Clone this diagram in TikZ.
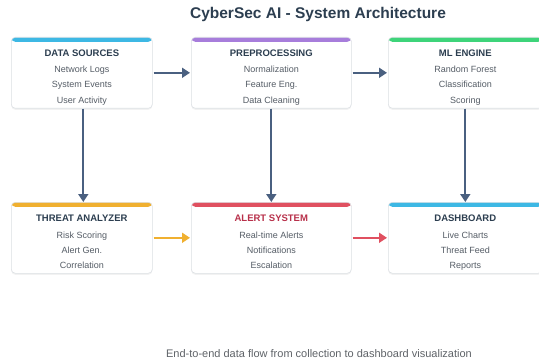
\documentclass[tikz,border=0pt]{standalone}
\usepackage{fontspec}
\setmainfont{Liberation Sans}
\usetikzlibrary{arrows.meta,shadows}
\definecolor{titlecol}{HTML}{2C3E50}
\definecolor{bodycol}{HTML}{555D66}
\definecolor{capcol}{HTML}{5F6368}
\definecolor{bordercol}{HTML}{DDE1E5}
\definecolor{cblue}{HTML}{3DB8E4}
\definecolor{cpurple}{HTML}{A77DDB}
\definecolor{cgreen}{HTML}{3ED47A}
\definecolor{corange}{HTML}{F0B030}
\definecolor{cred}{HTML}{E05060}
\definecolor{cdarkred}{HTML}{B8304A}
\definecolor{slate}{HTML}{4A6080}
\tikzset{
  archbox/.style n args={2}{draw=bordercol, line width=0.6pt, fill=white, rounded corners=4pt,
    inner sep=0pt, anchor=north west, minimum height=71pt, minimum width=#1,
    drop shadow={opacity=0.10, shadow xshift=0pt, shadow yshift=-1.5pt},
    path picture={\fill[#2] (path picture bounding box.north west) rectangle ([yshift=-4.5pt]path picture bounding box.north east);}},
  boxtitle/.style={anchor=base, font=\fontsize{9.5}{11}\selectfont\bfseries, text=titlecol, inner sep=0pt},
  boxline/.style={anchor=base, font=\fontsize{9}{10}\selectfont, text=bodycol, inner sep=0pt},
  flow/.style={line width=1.8pt, -{Triangle[length=8pt,width=10pt]}}
}
\newcommand{\archbox}[9]{%
  \node[archbox={#4}{#5}] (#1) at (#2,#3) {};
  \node[boxtitle, text=#7] (#1t) at ([yshift=-19.5pt]#1.north) {#6};
  \node[boxline] (#1a) at ([yshift=-36pt]#1.north) {#8};
  \node[boxline] (#1b) at ([yshift=-51pt]#1.north) {#9};
}
\begin{document}
\begin{tikzpicture}[x=1pt,y=-1pt]
\useasboundingbox (0,0) rectangle (539,361);
\fill[white] (0,0) rectangle (539,361);
\node[anchor=base, font=\fontsize{15.5}{18}\selectfont\bfseries, text=titlecol, inner sep=0pt] (title) at (318,19) {CyberSec AI - System Architecture};

\archbox{ds}{11}{37}{141pt}{cblue}{DATA SOURCES}{titlecol}{Network Logs}{System Events}
\node[boxline] (dsc) at ([yshift=-66pt]ds.north) {User Activity};
\archbox{pp}{191}{37}{160pt}{cpurple}{PREPROCESSING}{titlecol}{Normalization}{Feature Eng.}
\node[boxline] (ppc) at ([yshift=-66pt]pp.north) {Data Cleaning};
\archbox{ml}{388}{37}{154pt}{cgreen}{ML ENGINE}{titlecol}{Random Forest}{Classification}
\node[boxline] (mlc) at ([yshift=-66pt]ml.north) {Scoring};

\archbox{ta}{11}{202}{141pt}{corange}{THREAT ANALYZER}{titlecol}{Risk Scoring}{Alert Gen.}
\node[boxline] (tac) at ([yshift=-66pt]ta.north) {Correlation};
\archbox{as}{191}{202}{160pt}{cred}{ALERT SYSTEM}{cdarkred}{Real-time Alerts}{Notifications}
\node[boxline] (asc) at ([yshift=-66pt]as.north) {Escalation};
\archbox{db}{388}{202}{154pt}{cblue}{DASHBOARD}{titlecol}{Live Charts}{Threat Feed}
\node[boxline] (dbc) at ([yshift=-66pt]db.north) {Reports};

\draw[flow, slate] ([xshift=1pt]ds.east) -- ([xshift=-1pt]pp.west);
\draw[flow, slate] ([xshift=1pt]pp.east) -- ([xshift=-1pt]ml.west);
\draw[flow, slate] ([xshift=1.5pt]ds.south) -- ([xshift=1.5pt]ta.north);
\draw[flow, slate] (pp.south) -- (as.north);
\draw[flow, slate] (ml.south) -- (db.north);
\draw[flow, corange] ([xshift=1pt]ta.east) -- ([xshift=-1pt]as.west);
\draw[flow, cred] ([xshift=1pt]as.east) -- ([xshift=-1pt]db.west);

\node[anchor=base, font=\fontsize{11}{13}\selectfont, text=capcol, inner sep=0pt] (cap) at (319,357) {End-to-end data flow from collection to dashboard visualization};
\end{tikzpicture}
\end{document}
